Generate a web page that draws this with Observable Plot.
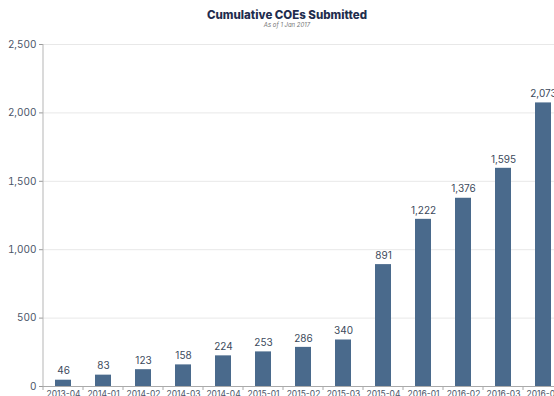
<!DOCTYPE html>
<html><head><meta charset="utf-8">
<script src="https://cdn.jsdelivr.net/npm/d3@7"></script>
<script src="https://cdn.jsdelivr.net/npm/@observablehq/plot@0.6"></script>
<style>
html,body{margin:0;padding:0;background:#fff;overflow:hidden;width:554px;height:396px;}
#head{height:30px;position:relative;width:574px;font-family:Inter,"Noto Sans",sans-serif;}
#title{position:absolute;left:0;width:574px;top:8px;text-align:center;font-size:11.5px;font-weight:800;color:#1f2d4e;}
#sub{position:absolute;left:0;width:574px;top:21px;text-align:center;font-size:6px;font-style:italic;color:#777;}
#chart svg{max-width:none !important;}
</style></head>
<body>
<div id="head"><div id="title">Cumulative COEs Submitted</div><div id="sub">As of 1 Jan 2017</div></div>
<div id="chart"></div>
<script>
const quarters = ["2013-Q4","2014-Q1","2014-Q2","2014-Q3","2014-Q4","2015-Q1","2015-Q2","2015-Q3","2015-Q4","2016-Q1","2016-Q2","2016-Q3","2016-Q4"];
const tickLabels = ["2013-04","2014-01","2014-02","2014-03","2014-04","2015-01","2015-02","2015-03","2015-04","2016-01","2016-02","2016-03","2016-04"];
const values = [46,83,123,158,224,253,286,340,891,1222,1376,1595,2073];
const yTicks = [0,500,1000,1500,2000,2500];
const data = quarters.map((q,i)=>({q, v: values[i]}));
const labelOf = new Map(quarters.map((q,i)=>[q,tickLabels[i]]));
const fmt = d3.format(",");
const plot = Plot.plot({
  width: 573, height: 380,
  marginLeft: 43, marginRight: 10, marginTop: 14, marginBottom: 24,
  style: {fontFamily: "Inter, 'Noto Sans', sans-serif", background: "#fff", overflow: "visible", maxWidth: "none"},
  x: {domain: quarters, paddingInner: 0.6, paddingOuter: 0.3, align: 0.5, axis: null, label: null},
  y: {domain: [0,2500], axis: null, label: null},
  marks: [
    Plot.gridY(yTicks.filter(d=>d>0), {stroke: "#e8e8e8", strokeOpacity: 1}),
    Plot.barY(data, {x: "q", y: "v", fill: "#4a6a8c"}),
    Plot.text(data, {x: "q", y: "v", text: d=>fmt(d.v), dy: -9, fill: "#3c4a5c", fontSize: 10}),
    Plot.axisY(yTicks, {tickFormat: d=>fmt(d), tickSize: 4, tickPadding: 3, stroke: "#999", fill: "#4a5568", fontSize: 10, label: null}),
    Plot.ruleY([0], {stroke: "#aaa"}),
    Plot.axisX({tickFormat: d=>labelOf.get(d), tickSize: 0, tickPadding: 4, fill: "#4a5568", fontSize: 8.5, label: null})
  ]
});
document.getElementById("chart").appendChild(plot);
const svg = d3.select(plot);
const xs = plot.scale("x"), ys = plot.scale("y");
const x0 = 43, yb = ys.apply(0), yt = ys.apply(2500);
svg.append("line").attr("x1",x0).attr("x2",x0).attr("y1",yt).attr("y2",yb).attr("stroke","#b5b5b5");
const step = xs.step;
quarters.forEach((q,i)=>{
  const e = xs.apply(q) - (step - xs.bandwidth)/2;
  svg.append("line").attr("x1",e).attr("x2",e).attr("y1",yb).attr("y2",yb+4).attr("stroke","#aaa");
});
</script>
</body></html>
